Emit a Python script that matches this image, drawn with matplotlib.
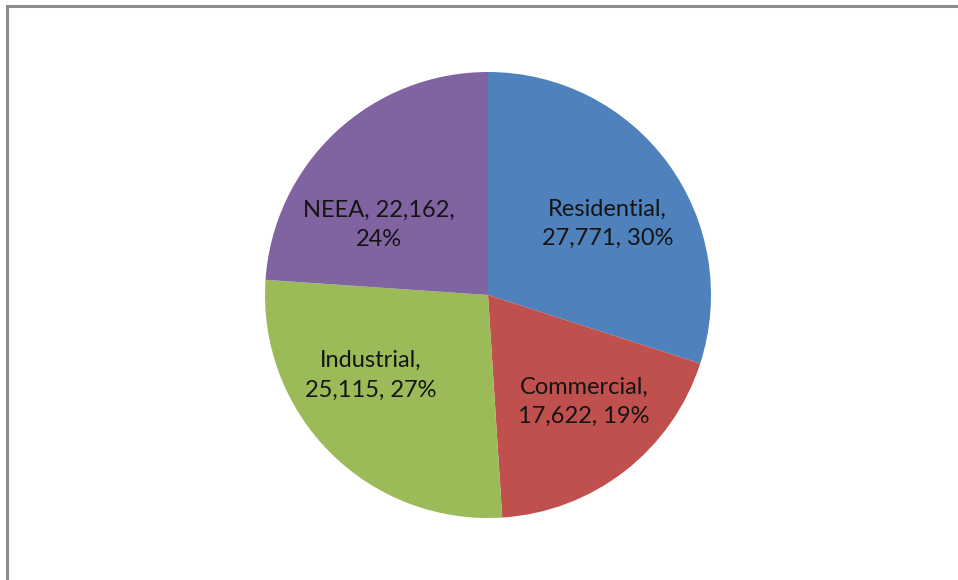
import matplotlib
matplotlib.use("Agg")
import matplotlib.pyplot as plt
from matplotlib.lines import Line2D

categories = ["Residential", "Commercial", "Industrial", "NEEA"]
values = [27771, 17622, 25115, 22162]
colors = ["#4F81BD", "#C0504D", "#9BBB59", "#8064A2"]

# label centres, in pie-radius units (layout only)
label_pos = [(0.535, 0.32), (0.43, -0.48), (-0.525, -0.36), (-0.49, 0.315)]

W, H = 958, 580
fig = plt.figure(figsize=(W / 100, H / 100), dpi=100)

cx, cy, r = 488, 295, 223
ax = fig.add_axes([(cx - r) / W, (H - cy - r) / H, 2 * r / W, 2 * r / H])

total = sum(values)
ax.pie(
    values,
    colors=colors,
    startangle=90,
    counterclock=False,
    radius=1,
    wedgeprops={"linewidth": 0},
)
ax.set_xlim(-1, 1)
ax.set_ylim(-1, 1)
ax.set_aspect("equal")
ax.axis("off")

for name, val, (x, y) in zip(categories, values, label_pos):
    pct = round(100 * val / total)
    if name == "NEEA":
        txt = f"{name}, {val:,},\n{pct}%"
    else:
        txt = f"{name},\n{val:,}, {pct}%"
    ax.text(
        x, y, txt,
        ha="center", va="center",
        fontsize=17, family="Lato", color="#141414",
        linespacing=1.48,
    )

# outer chart border (left and top visible)
border = "#8C8C8C"
fig.add_artist(Line2D([7 / W, 7 / W], [0, 1 - 6 / H], transform=fig.transFigure,
                      color=border, linewidth=2.2))
fig.add_artist(Line2D([7 / W, 1], [1 - 6 / H, 1 - 6 / H], transform=fig.transFigure,
                      color=border, linewidth=2.2))

fig.savefig("out.png", dpi=100)
